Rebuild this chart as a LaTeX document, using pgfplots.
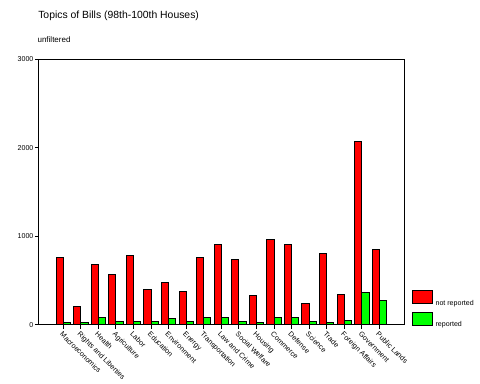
\documentclass[border=0pt]{standalone}
\usepackage{fontspec}
\setmainfont{Liberation Sans}
\usepackage{pgfplots}
\pgfplotsset{compat=1.18}
\definecolor{barred}{RGB}{255,0,0}
\definecolor{bargreen}{RGB}{0,255,0}
\begin{document}
\begin{tikzpicture}
\useasboundingbox (0,0) rectangle (360pt,288pt);
\node[anchor=base west, font=\fontsize{7.8}{8}\selectfont, inner sep=0pt] at (28.5pt,273.75pt) {Topics of Bills (98th-100th Houses)};
\node[anchor=base west, font=\fontsize{6}{6}\selectfont, inner sep=0pt] at (28pt,256pt) {unfiltered};
\begin{axis}[
  at={(29.25pt,44.25pt)}, anchor=south west,
  scale only axis, width=274pt, height=199.3pt,
  xmin=-1.384, xmax=19.42, ymin=0, ymax=3000,
  ybar=0pt, bar width=5.4pt,
  xtick={0,...,18},
  xticklabels={Macroeconomics,Rights and Liberties,Health,Agriculture,Labor,Education,Environment,Energy,Transportation,Law and Crime,Social Welfare,Housing,Commerce,Defense,Science,Trade,Foreign Affairs,Government,Public Lands},
  x tick label style={rotate=-45, anchor=north west, font=\fontsize{5.4}{6}\selectfont, inner sep=1pt},
  ytick={0,1000,2000,3000},
  y tick label style={font=\fontsize{5.3}{6}\selectfont, /pgf/number format/1000 sep={}, inner sep=1pt},
  /pgf/number format/assume math mode=true,
  scaled y ticks=false,
  tick align=outside, major tick length=3pt,
  xtick pos=left, ytick pos=left,
  axis line style={line width=0.75pt},
  every tick/.style={black, line width=0.75pt},
  legend style={draw=none, fill=none, at={(1,0)}, anchor=south west, xshift=5.5pt, yshift=-3pt,
    font=\fontsize{5.3}{6}\selectfont, inner sep=0pt, row sep=3pt,
    cells={anchor=west}},
  legend image code/.code={\draw[#1] (0pt,0pt) rectangle (15pt,9.75pt);},
]
\addplot[draw=black, line width=0.75pt, fill=barred] coordinates {
(0,763) (1,211) (2,684) (3,571) (4,786) (5,402) (6,481) (7,380) (8,763) (9,910)
(10,739) (11,335) (12,966) (13,910) (14,245) (15,808) (16,346) (17,2071) (18,853)};
\addplot[draw=black, line width=0.75pt, fill=bargreen] coordinates {
(0,23) (1,23) (2,79) (3,45) (4,34) (5,45) (6,68) (7,45) (8,79) (9,90)
(10,34) (11,23) (12,79) (13,90) (14,34) (15,23) (16,56) (17,372) (18,282)};
\legend{\smash{\raisebox{-2pt}{not reported}}, \smash{\raisebox{-2pt}{reported}}}
\end{axis}
\end{tikzpicture}
\end{document}
